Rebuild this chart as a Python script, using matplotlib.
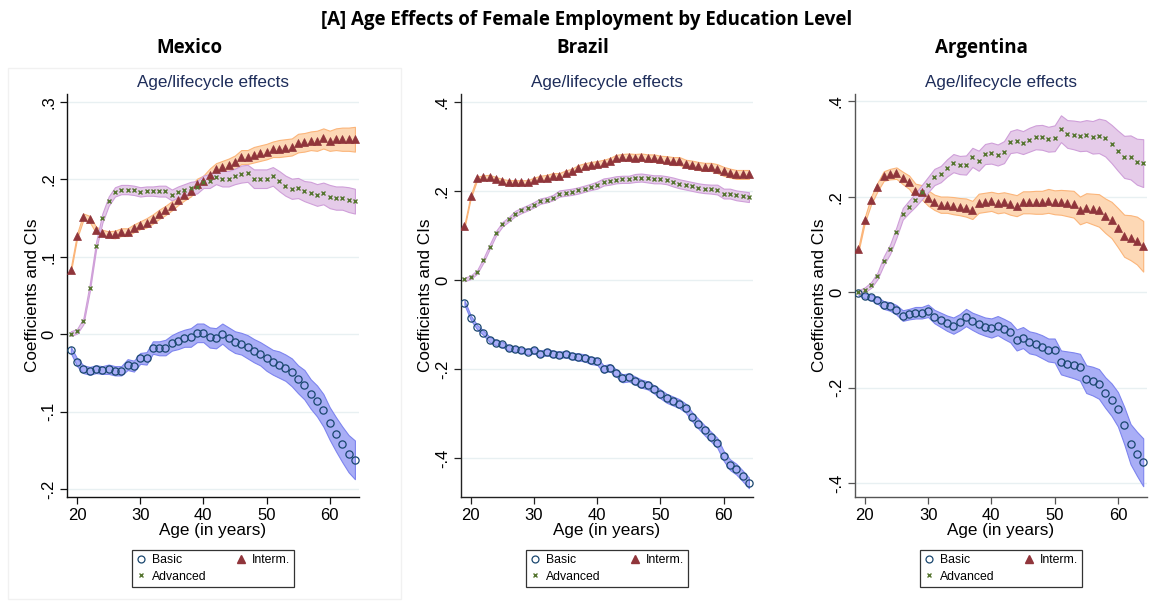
import matplotlib
matplotlib.use("Agg")
import matplotlib.pyplot as plt
from matplotlib.lines import Line2D
from matplotlib.patches import Rectangle
import numpy as np

ages = list(range(19, 65))

# ---------------- Mexico ----------------
mex_basic = [-0.020, -0.036, -0.045, -0.047, -0.045, -0.046, -0.045, -0.047, -0.047, -0.039,
             -0.041, -0.031, -0.031, -0.017, -0.018, -0.017, -0.011, -0.008, -0.005, -0.004,
             0.002, 0.002, -0.004, -0.005, 0.001, -0.005, -0.010, -0.012, -0.016, -0.021,
             -0.025, -0.031, -0.036, -0.039, -0.043, -0.049, -0.058, -0.065, -0.077, -0.086,
             -0.098, -0.115, -0.129, -0.142, -0.154, -0.162]
mex_basic_hw = [0.004, 0.005, 0.005, 0.005, 0.005, 0.005, 0.006, 0.006, 0.006, 0.007,
                0.007, 0.007, 0.008, 0.008, 0.009, 0.010, 0.010, 0.011, 0.011, 0.012,
                0.012, 0.012, 0.013, 0.013, 0.013, 0.014, 0.014, 0.014, 0.015, 0.015,
                0.015, 0.016, 0.016, 0.017, 0.017, 0.018, 0.018, 0.019, 0.019, 0.020,
                0.021, 0.021, 0.022, 0.023, 0.024, 0.025]
mex_interm = [0.083, 0.127, 0.152, 0.149, 0.135, 0.131, 0.129, 0.129, 0.132, 0.132,
              0.137, 0.141, 0.144, 0.149, 0.155, 0.160, 0.166, 0.174, 0.180, 0.185,
              0.194, 0.198, 0.206, 0.213, 0.216, 0.219, 0.222, 0.229, 0.229, 0.232,
              0.234, 0.236, 0.239, 0.240, 0.241, 0.242, 0.247, 0.248, 0.250, 0.250,
              0.253, 0.250, 0.252, 0.252, 0.252, 0.252]
mex_interm_hw = [0.003, 0.003, 0.004, 0.004, 0.004, 0.004, 0.004, 0.005, 0.005, 0.005,
                 0.005, 0.005, 0.006, 0.006, 0.006, 0.006, 0.006, 0.007, 0.007, 0.007,
                 0.007, 0.007, 0.008, 0.008, 0.008, 0.008, 0.009, 0.009, 0.009, 0.010,
                 0.010, 0.010, 0.010, 0.011, 0.011, 0.011, 0.012, 0.012, 0.012, 0.013,
                 0.013, 0.013, 0.014, 0.015, 0.015, 0.016]
mex_adv = [0.001, 0.004, 0.017, 0.060, 0.114, 0.150, 0.172, 0.184, 0.187, 0.187,
           0.186, 0.184, 0.185, 0.185, 0.185, 0.185, 0.180, 0.184, 0.186, 0.189,
           0.190, 0.197, 0.198, 0.203, 0.201, 0.201, 0.204, 0.207, 0.208, 0.201,
           0.201, 0.201, 0.204, 0.198, 0.192, 0.188, 0.189, 0.185, 0.183, 0.180,
           0.182, 0.178, 0.176, 0.176, 0.174, 0.172]
mex_adv_hw = [0.003, 0.003, 0.004, 0.005, 0.005, 0.006, 0.006, 0.006, 0.006, 0.006,
              0.006, 0.006, 0.006, 0.006, 0.007, 0.007, 0.007, 0.007, 0.008, 0.008,
              0.008, 0.008, 0.009, 0.009, 0.010, 0.010, 0.010, 0.011, 0.011, 0.012,
              0.012, 0.012, 0.012, 0.013, 0.013, 0.013, 0.013, 0.013, 0.014, 0.014,
              0.014, 0.015, 0.015, 0.015, 0.016, 0.016]

# ---------------- Brazil ----------------
bra_basic = [-0.050, -0.084, -0.105, -0.118, -0.133, -0.140, -0.144, -0.152, -0.154, -0.157,
             -0.160, -0.157, -0.165, -0.161, -0.165, -0.167, -0.166, -0.170, -0.172, -0.174,
             -0.180, -0.182, -0.199, -0.196, -0.208, -0.220, -0.218, -0.225, -0.232, -0.236,
             -0.245, -0.255, -0.265, -0.271, -0.277, -0.287, -0.306, -0.322, -0.337, -0.351,
             -0.365, -0.394, -0.414, -0.424, -0.439, -0.455]
bra_basic_hw = [0.005, 0.005, 0.005, 0.005, 0.006, 0.006, 0.006, 0.006, 0.006, 0.006,
                0.006, 0.007, 0.007, 0.007, 0.007, 0.007, 0.007, 0.007, 0.008, 0.008,
                0.008, 0.008, 0.008, 0.008, 0.008, 0.009, 0.009, 0.009, 0.009, 0.009,
                0.009, 0.010, 0.010, 0.010, 0.010, 0.010, 0.010, 0.011, 0.011, 0.011,
                0.011, 0.011, 0.012, 0.012, 0.012, 0.012]
bra_interm = [0.122, 0.189, 0.229, 0.232, 0.232, 0.227, 0.223, 0.220, 0.220, 0.220,
              0.220, 0.226, 0.229, 0.231, 0.235, 0.235, 0.241, 0.245, 0.253, 0.256,
              0.259, 0.261, 0.264, 0.268, 0.275, 0.277, 0.277, 0.276, 0.277, 0.275,
              0.275, 0.272, 0.271, 0.268, 0.268, 0.262, 0.260, 0.257, 0.255, 0.255,
              0.251, 0.245, 0.241, 0.238, 0.238, 0.238]
bra_interm_hw = [0.004, 0.004, 0.004, 0.004, 0.005, 0.005, 0.005, 0.005, 0.005, 0.005,
                 0.005, 0.005, 0.006, 0.006, 0.006, 0.006, 0.006, 0.006, 0.006, 0.007,
                 0.007, 0.007, 0.007, 0.007, 0.007, 0.007, 0.008, 0.008, 0.008, 0.008,
                 0.008, 0.008, 0.008, 0.009, 0.009, 0.009, 0.009, 0.009, 0.009, 0.009,
                 0.010, 0.010, 0.010, 0.010, 0.010, 0.010]
bra_adv = [0.002, 0.007, 0.019, 0.045, 0.076, 0.106, 0.126, 0.137, 0.150, 0.157,
           0.163, 0.170, 0.178, 0.181, 0.186, 0.195, 0.197, 0.199, 0.202, 0.206,
           0.210, 0.214, 0.221, 0.223, 0.226, 0.227, 0.227, 0.230, 0.231, 0.229,
           0.227, 0.227, 0.225, 0.221, 0.217, 0.214, 0.211, 0.208, 0.206, 0.205,
           0.204, 0.195, 0.195, 0.191, 0.189, 0.187]
bra_adv_hw = [0.004, 0.004, 0.004, 0.005, 0.005, 0.005, 0.005, 0.005, 0.006, 0.006,
              0.006, 0.006, 0.006, 0.006, 0.006, 0.007, 0.007, 0.007, 0.007, 0.007,
              0.007, 0.008, 0.008, 0.008, 0.008, 0.008, 0.008, 0.009, 0.009, 0.009,
              0.009, 0.009, 0.009, 0.010, 0.010, 0.010, 0.010, 0.010, 0.010, 0.010,
              0.011, 0.011, 0.011, 0.011, 0.011, 0.011]

# ---------------- Argentina ----------------
arg_basic = [-0.002, -0.008, -0.011, -0.017, -0.027, -0.030, -0.037, -0.049, -0.046, -0.043,
             -0.043, -0.039, -0.051, -0.058, -0.065, -0.070, -0.063, -0.053, -0.061, -0.067,
             -0.072, -0.075, -0.070, -0.077, -0.084, -0.100, -0.095, -0.105, -0.108, -0.114,
             -0.121, -0.122, -0.147, -0.150, -0.153, -0.157, -0.182, -0.186, -0.192, -0.210,
             -0.225, -0.245, -0.279, -0.318, -0.338, -0.356]
arg_basic_hw = [0.004, 0.005, 0.006, 0.007, 0.008, 0.009, 0.010, 0.011, 0.011, 0.012,
                0.012, 0.013, 0.014, 0.015, 0.016, 0.017, 0.017, 0.018, 0.018, 0.019,
                0.019, 0.020, 0.020, 0.021, 0.021, 0.022, 0.022, 0.023, 0.023, 0.024,
                0.024, 0.025, 0.025, 0.026, 0.027, 0.028, 0.029, 0.030, 0.031, 0.032,
                0.034, 0.036, 0.039, 0.042, 0.046, 0.050]
arg_interm = [0.090, 0.151, 0.192, 0.220, 0.243, 0.247, 0.249, 0.239, 0.230, 0.212,
              0.209, 0.197, 0.188, 0.183, 0.183, 0.181, 0.179, 0.177, 0.172, 0.186,
              0.188, 0.190, 0.186, 0.188, 0.184, 0.181, 0.188, 0.188, 0.188, 0.188,
              0.191, 0.188, 0.188, 0.186, 0.184, 0.171, 0.177, 0.174, 0.171, 0.160,
              0.151, 0.135, 0.118, 0.114, 0.108, 0.096]
arg_interm_hw = [0.005, 0.006, 0.008, 0.009, 0.010, 0.011, 0.012, 0.013, 0.014, 0.015,
                 0.015, 0.016, 0.016, 0.017, 0.017, 0.018, 0.018, 0.019, 0.019, 0.020,
                 0.020, 0.020, 0.021, 0.021, 0.022, 0.022, 0.023, 0.023, 0.024, 0.024,
                 0.025, 0.025, 0.026, 0.027, 0.028, 0.029, 0.030, 0.032, 0.034, 0.036,
                 0.038, 0.041, 0.044, 0.047, 0.050, 0.053]
arg_adv = [0.000, 0.005, 0.015, 0.034, 0.066, 0.090, 0.125, 0.164, 0.179, 0.193,
           0.209, 0.225, 0.241, 0.247, 0.260, 0.270, 0.266, 0.266, 0.282, 0.275,
           0.289, 0.291, 0.287, 0.293, 0.314, 0.317, 0.313, 0.319, 0.324, 0.324,
           0.320, 0.322, 0.342, 0.331, 0.329, 0.326, 0.328, 0.324, 0.327, 0.322,
           0.310, 0.296, 0.283, 0.282, 0.273, 0.270]
arg_adv_hw = [0.004, 0.005, 0.006, 0.007, 0.009, 0.010, 0.011, 0.012, 0.013, 0.014,
              0.015, 0.016, 0.017, 0.017, 0.018, 0.019, 0.019, 0.020, 0.020, 0.021,
              0.021, 0.022, 0.022, 0.023, 0.023, 0.024, 0.024, 0.025, 0.025, 0.026,
              0.026, 0.027, 0.028, 0.029, 0.030, 0.031, 0.032, 0.034, 0.036, 0.038,
              0.040, 0.042, 0.044, 0.046, 0.048, 0.050]

countries = ["Mexico", "Brazil", "Argentina"]
panel_data = [
    (mex_basic, mex_basic_hw, mex_interm, mex_interm_hw, mex_adv, mex_adv_hw),
    (bra_basic, bra_basic_hw, bra_interm, bra_interm_hw, bra_adv, bra_adv_hw),
    (arg_basic, arg_basic_hw, arg_interm, arg_interm_hw, arg_adv, arg_adv_hw),
]
y_ticks = [[-0.2, -0.1, 0, 0.1, 0.2, 0.3],
           [-0.4, -0.2, 0, 0.2, 0.4],
           [-0.4, -0.2, 0, 0.2, 0.4]]
y_ticklabels = [["-.2", "-.1", "0", ".1", ".2", ".3"],
                ["-.4", "-.2", "0", ".2", ".4"],
                ["-.4", "-.2", "0", ".2", ".4"]]
y_lims = [(-0.2096, 0.310), (-0.486, 0.418), (-0.428, 0.414)]
x_ticks = [20, 30, 40, 50, 60]
legend_labels = ["Basic", "Interm.", "Advanced"]

# styling
SANS = ["Liberation Sans", "DejaVu Sans"]
TITLE_FONT = ["Open Sans", "Noto Sans", "DejaVu Sans"]
navy = "#1a476f"
maroon = "#90353b"
green = "#55752f"
band_basic = ("#a9aef6", "#7d84ee")
band_interm = ("#fdd8b5", "#fbb57a")
band_adv = ("#e5cbe9", "#cf9fd9")
spine_colors = ["#111111", "#222222", "#555555"]

W, H = 1150, 601
fig = plt.figure(figsize=(W / 100, H / 100), dpi=100)

axes_px = [(67.3, 358.7), (461.0, 752.7), (855.0, 1147.0)]
top_px, bot_px = 94.3, 496.7
title_x = [189, 583, 981]

# faint frame around first panel
fig.patches.append(Rectangle((8 / W, 1 - 599 / H), (401 - 8) / W, (599 - 68) / H,
                             transform=fig.transFigure, fill=False,
                             edgecolor="#f1f1f1", lw=1.0))

fig.text(586.7 / W, 1 - 20 / H, "[A] Age Effects of Female Employment by Education Level",
         ha="center", va="center", fontsize=13.5, fontweight="bold", family=TITLE_FONT)

for i, (name, d) in enumerate(zip(countries, panel_data)):
    l, r = axes_px[i]
    ax = fig.add_axes([l / W, 1 - bot_px / H, (r - l) / W, (bot_px - top_px) / H])
    basic, basic_hw, interm, interm_hw, adv, adv_hw = [np.array(v) for v in d]
    x = np.array(ages)

    for val, hw, (fc, ec) in [(basic, basic_hw, band_basic),
                              (interm, interm_hw, band_interm),
                              (adv, adv_hw, band_adv)]:
        ax.fill_between(x, val - hw, val + hw, facecolor=fc, edgecolor=ec,
                        linewidth=0.8, zorder=2)

    ax.plot(x, basic, linestyle="none", marker="o", ms=5.2, mfc="none", mec=navy,
            mew=0.9, zorder=4)
    ax.plot(x, interm, linestyle="none", marker="^", ms=5.5, mfc=maroon, mec=maroon,
            mew=0.5, zorder=4)
    ax.plot(x, adv, linestyle="none", marker="x", ms=3.4, mec=green, mew=1.0, zorder=5)

    ax.set_xlim(18.45, 64.6)
    ax.set_ylim(*y_lims[i])
    ax.set_xticks(x_ticks)
    ax.set_xticklabels([str(t) for t in x_ticks], fontsize=12, family=SANS)
    ax.set_yticks(y_ticks[i])
    ax.set_yticklabels(y_ticklabels[i], fontsize=12, family=SANS, rotation=90,
                       va="center")
    ax.grid(axis="y", color="#e8f0f2", lw=1.0, zorder=0)
    ax.set_axisbelow(True)
    for s in ["top", "right"]:
        ax.spines[s].set_visible(False)
    for s in ["left", "bottom"]:
        ax.spines[s].set_color(spine_colors[i])
        ax.spines[s].set_linewidth(1.0)
    ax.tick_params(axis="both", direction="out", length=5, width=0.9,
                   color=spine_colors[i], pad=3)
    ax.set_xlabel("Age (in years)", fontsize=12.3, family=SANS, labelpad=0)
    ax.set_ylabel("Coefficients and CIs", fontsize=12.3, family=SANS, labelpad=1)
    ax.set_title("Age/lifecycle effects", fontsize=12.3, family=SANS, color="#1e2d5a",
                 pad=5)

    fig.text(title_x[i] / W, 1 - 48 / H, name, ha="center", va="center",
             fontsize=13.5, fontweight="bold", family=TITLE_FONT)

    h_basic = Line2D([], [], linestyle="none", marker="o", ms=5, mfc="none",
                     mec=navy, mew=0.9)
    h_interm = Line2D([], [], linestyle="none", marker="^", ms=5.5, mfc=maroon,
                      mec=maroon)
    h_adv = Line2D([], [], linestyle="none", marker="x", ms=3.3, mec=green, mew=1.0)
    cx = (l + r) / 2
    leg = fig.legend([h_basic, h_adv, h_interm],
                     [legend_labels[0], legend_labels[2], legend_labels[1]],
                     ncol=2, loc="center", bbox_to_anchor=(cx / W, 1 - 568.3 / H),
                     prop={"family": SANS, "size": 8.8},
                     frameon=True, fancybox=False, edgecolor="black",
                     handlelength=0.8, handletextpad=0.5, columnspacing=2.4,
                     labelspacing=0.4, borderpad=0.35)
    leg.get_frame().set_linewidth(0.9)

fig.savefig("out.png", dpi=100, facecolor="white")
